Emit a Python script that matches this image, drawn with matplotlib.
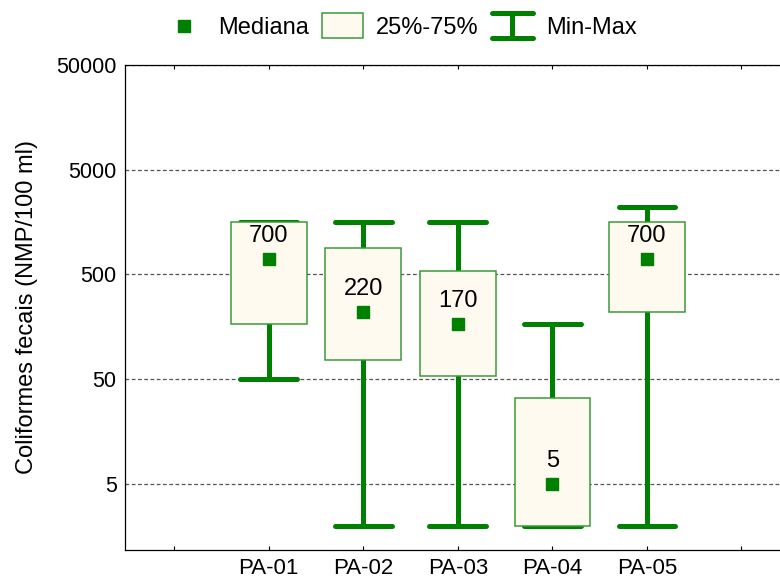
import matplotlib
matplotlib.use("Agg")
import matplotlib.pyplot as plt
from matplotlib.lines import Line2D
from matplotlib.patches import Patch
from matplotlib.legend_handler import HandlerBase
from matplotlib.ticker import FixedLocator, NullLocator

plt.rcParams["font.family"] = ["Liberation Sans", "DejaVu Sans"]

# dados
pontos = ["PA-01", "PA-02", "PA-03", "PA-04", "PA-05"]
minimo = [50, 2, 2, 2, 2]
q1 = [170, 77, 54, 2, 220]
mediana = [700, 220, 170, 5, 700]
q3 = [1600, 900, 535, 33, 1600]
maximo = [1600, 1600, 1600, 170, 2200]
rotulos_mediana = ["700", "220", "170", "5", "700"]

y_ticks = [5, 50, 500, 5000, 50000]

verde = "#008000"
borda = "#3a9a3a"
creme = "#fefaef"


class HandlerMinMax(HandlerBase):
    # desenha o símbolo "I" da legenda
    def create_artists(self, legend, orig_handle, xdescent, ydescent,
                       width, height, fontsize, trans):
        xc = width / 2 - xdescent
        y0 = -ydescent
        y1 = height - ydescent
        kw = dict(color=verde, lw=3.6, solid_capstyle="round",
                  transform=trans)
        return [Line2D([xc, xc], [y0, y1], **kw),
                Line2D([0, width], [y0, y0], **kw),
                Line2D([0, width], [y1, y1], **kw)]


class HandlerQuadrado(HandlerBase):
    # marcador da mediana centrado na caixa da legenda
    def create_artists(self, legend, orig_handle, xdescent, ydescent,
                       width, height, fontsize, trans):
        xc = width / 2 - xdescent
        yc = height / 2 - ydescent
        return [Line2D([xc], [yc], marker="s", color=verde,
                       linestyle="none", markersize=8, transform=trans)]


fig = plt.figure(figsize=(7.8, 5.83), dpi=100)
ax = fig.add_axes([125 / 780, 33 / 583, 711 / 780, 485 / 583])

xs = list(range(1, len(pontos) + 1))

ax.vlines(xs, minimo, maximo, color=verde, lw=3.6, zorder=2)
for x, lo, hi in zip(xs, minimo, maximo):
    for v in (lo, hi):
        ax.plot([x - 0.3, x + 0.3], [v, v], color=verde, lw=3.6,
                solid_capstyle="round", zorder=2)

alturas = [b - a for a, b in zip(q1, q3)]
ax.bar(xs, alturas, bottom=q1, width=0.8, color=creme, edgecolor=borda,
       linewidth=1.1, zorder=3)

ax.plot(xs, mediana, "s", color=verde, markersize=8, zorder=4)
for x, m, r in zip(xs, mediana, rotulos_mediana):
    ax.annotate(r, (x, m), xytext=(0, 16.5), textcoords="offset points",
                ha="center", va="center", fontsize=17, zorder=5)

ax.set_yscale("log")
ax.set_ylim(1.17, 50000)
ax.set_xlim(-0.52, 7.0)
ax.yaxis.set_major_locator(FixedLocator(y_ticks))
ax.yaxis.set_minor_locator(NullLocator())
ax.set_yticklabels([str(v) for v in y_ticks])
ax.set_xticks(range(0, 7))
ax.set_xticklabels([""] + pontos + [""])
ax.tick_params(axis="x", direction="in", length=3, width=0.8, top=True,
               labelsize=16, pad=6)
ax.tick_params(axis="y", direction="in", length=0, labelsize=15.5, pad=6)

ax.grid(axis="y", linestyle=(0, (3, 2)), color="#555555", lw=0.9, zorder=0)
ax.set_axisbelow(True)
ax.spines["right"].set_visible(False)
for s in ("left", "top", "bottom"):
    ax.spines[s].set_linewidth(0.9)

ax.set_ylabel("Coliformes fecais (NMP/100 ml)", fontsize=17, labelpad=13)

handles = [
    Line2D([], [], marker="s", color=verde, linestyle="none"),
    Patch(facecolor=creme, edgecolor=borda, linewidth=1.1),
    Line2D([], [], color=verde),
]
fig.legend(handles, ["Mediana", "25%-75%", "Min-Max"],
           handler_map={handles[0]: HandlerQuadrado(),
                        handles[2]: HandlerMinMax()},
           loc="center", bbox_to_anchor=(400 / 780, 1 - 26 / 583), ncol=3,
           frameon=False, fontsize=17, handlelength=1.75, handleheight=1.2,
           handletextpad=0.55, columnspacing=0.55, borderpad=0)

fig.savefig("out.png", dpi=100)
